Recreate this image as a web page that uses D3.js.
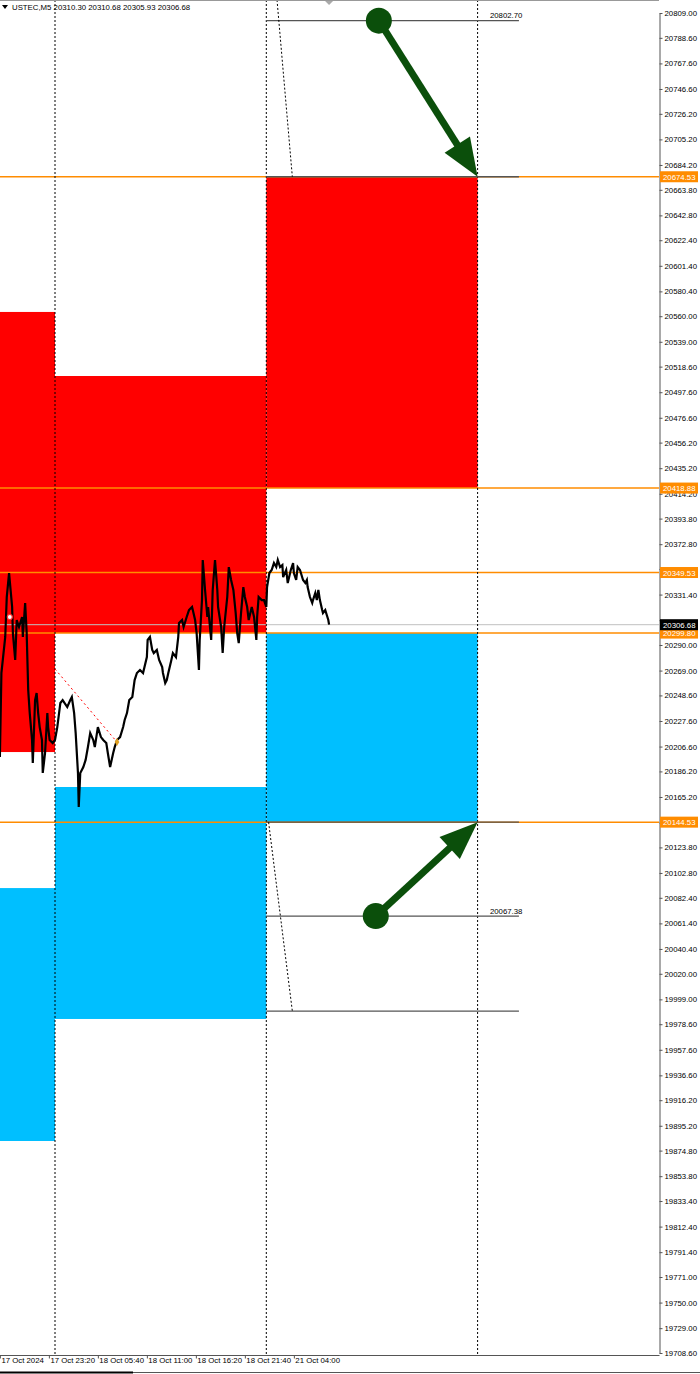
<!DOCTYPE html>
<html>
<head>
<meta charset="utf-8">
<title>USTEC,M5</title>
<style>
  body { margin: 0; background: #fff; }
  svg { display: block; font-family: "Liberation Sans", Arial, sans-serif; }
  .axis text { font-size: 7.8px; fill: #000; }
  .axis line, .axis path { stroke: #555; }
</style>
</head>
<body>
<script src="https://cdn.jsdelivr.net/npm/d3@7"></script>
<script>
// chart size and plot box
var width = 700, height = 1374,
    plotRight = 659, plotBottom = 1355;

// price axis labels (right side)
var priceTicks = [20809.00, 20788.60, 20767.60, 20746.60, 20726.20, 20705.20, 20684.20, 20663.80,
  20642.80, 20622.40, 20601.40, 20580.40, 20560.00, 20539.00, 20518.60, 20497.60, 20476.60,
  20456.20, 20435.20, 20414.20, 20393.80, 20372.80, 20352.40, 20331.40, 20310.40, 20290.00,
  20269.00, 20248.60, 20227.60, 20206.60, 20186.20, 20165.20, 20144.20, 20123.80, 20102.80,
  20082.40, 20061.40, 20040.40, 20020.00, 19999.00, 19978.60, 19957.60, 19936.60, 19916.20,
  19895.20, 19874.80, 19853.80, 19833.40, 19812.40, 19791.40, 19771.00, 19750.00, 19729.00,
  19708.60];

// time axis: bar index (M5 bars, 0 = first bar of 18 Oct) and label
var timeTickBars = [-72, -8, 56, 120, 184, 248, 312];
var timeTickLabels = ["17 Oct 2024", "17 Oct 23:20", "18 Oct 05:40", "18 Oct 11:00",
  "18 Oct 16:20", "18 Oct 21:40", "21 Oct 04:00"];

// close prices
var closeBars = [-72, -70, -65, -63, -60, -56, -55, -52, -50, -47, -43, -42, -39, -37, -35, -33,
  -30, -29, -26, -24, -22, -20, -17, -16, -13, -10, -9, -7, -3, 0, 3, 7, 10, 16, 20, 22, 25, 27,
  30, 31, 33, 37, 40, 43, 46, 50, 52, 56, 60, 63, 67, 69, 72, 76, 78, 81, 85, 89, 91, 94, 97,
  101, 104, 107, 111, 115, 120, 121, 124, 127, 129, 133, 136, 140, 141, 144, 146, 148, 152, 154,
  158, 161, 162, 166, 168, 172, 175, 179, 180, 183, 185, 188, 189, 192, 193, 196, 199, 200, 204,
  206, 209, 212, 213, 217, 219, 221, 225, 227, 230, 233, 236, 238, 240, 243, 246, 248, 251, 253,
  257, 260, 263, 264, 266, 270, 273, 276, 277, 280, 283, 286, 289, 291, 294, 297, 298, 302, 304,
  308, 311, 312, 315, 317, 320, 324, 327, 329, 330, 333, 336, 337, 340, 342, 344, 346, 349, 350,
  353, 355, 357, 358];
var closePrices = [20198.0, 20267.0, 20296.6, 20329.4, 20349.1, 20321.2, 20299.8, 20277.7,
  20310.5, 20304.8, 20313.0, 20296.6, 20324.5, 20299.8, 20253.0, 20234.1, 20212.0, 20193.1,
  20244.8, 20250.6, 20234.1, 20222.6, 20212.0, 20184.9, 20201.3, 20234.1, 20222.6, 20212.0,
  20209.5, 20212.0, 20222.6, 20242.4, 20244.8, 20239.1, 20244.8, 20247.3, 20234.1, 20217.7,
  20184.9, 20157.0, 20184.9, 20189.8, 20195.6, 20206.2, 20217.7, 20212.0, 20206.2, 20222.6,
  20214.4, 20212.0, 20209.5, 20201.3, 20189.8, 20201.3, 20206.2, 20212.0, 20214.4, 20222.6,
  20228.4, 20234.1, 20244.8, 20247.3, 20261.2, 20267.0, 20269.5, 20267.0, 20280.1, 20294.1,
  20296.6, 20285.9, 20283.4, 20285.9, 20277.7, 20271.9, 20267.0, 20258.8, 20261.2, 20267.0,
  20277.7, 20283.4, 20280.1, 20296.6, 20308.0, 20310.5, 20304.8, 20313.0, 20318.7, 20321.2,
  20318.7, 20310.5, 20299.8, 20269.5, 20294.1, 20326.9, 20359.8, 20335.2, 20313.0, 20321.2,
  20294.1, 20335.2, 20359.8, 20335.2, 20321.2, 20304.8, 20283.4, 20304.8, 20329.4, 20354.0,
  20343.4, 20335.2, 20316.3, 20299.8, 20291.6, 20316.3, 20337.6, 20329.4, 20321.2, 20310.5,
  20321.2, 20313.0, 20294.1, 20313.0, 20329.4, 20326.9, 20326.9, 20321.2, 20337.6, 20349.1,
  20351.6, 20357.3, 20354.0, 20359.8, 20354.0, 20355.7, 20345.8, 20351.6, 20340.9, 20351.6,
  20357.3, 20349.1, 20343.4, 20354.0, 20351.6, 20343.4, 20340.9, 20343.4, 20337.6, 20329.4,
  20324.5, 20326.9, 20332.7, 20326.9, 20335.2, 20326.9, 20318.7, 20316.3, 20318.7, 20314.6,
  20310.5, 20306.7];

// daily zones: start bar, end bar, supply (red) and demand (blue) ranges
var dayStartBars = [-276, 0, 276];
var dayEndBars = [0, 276, 552];
var supplyTop = [20563.5, 20510.9, 20674.53];
var supplyBottom = [20202.1, 20299.8, 20418.88];
var demandTop = [20090.4, 20173.4, 20299.80];
var demandBottom = [19882.7, 19982.9, 20144.53];

// separators
var separatorBars = [0, 276, 552];

// orange horizontal levels
var levelPrices = [20674.53, 20418.88, 20349.53, 20299.80, 20144.53];
var bidPrice = 20306.68;

// target lines for the current day
var targetPrices = [20802.70, 20674.53, 20144.53, 20067.38, 19989.40];
var targetLabels = ["20802.70", "", "", "20067.38", ""];
var targetStartBar = 276, targetEndBar = 606;

// dotted diagonals [bar, price]
var diagFrom = [[290, 20819.7], [279, 20144.5]];
var diagTo = [[310, 20674.53], [310, 19989.4]];
var redDiagFrom = [0, 20270.3], redDiagTo = [81, 20210.3];
var orderMark = [-59, 20313.0];

// green arrows
var arrowFromBar = [423, 419], arrowFromPrice = [20802.70, 20067.38];
var arrowToBar = [552, 552], arrowToPrice = [20674.53, 20144.53];

var header = "USTEC,M5  20310.30 20310.68 20305.93 20306.68";

// scales
var x = d3.scaleLinear().domain([0, 276]).range([55, 266.3]);
var y = d3.scaleLinear().domain([19708.60, 20809.00]).range([1353, 13]);

var svg = d3.select("body").append("svg")
  .attr("width", width).attr("height", height);

svg.append("clipPath").attr("id", "plot")
  .append("rect").attr("x", 0).attr("y", 0).attr("width", plotRight).attr("height", plotBottom);

var plot = svg.append("g").attr("clip-path", "url(#plot)");

// zones
plot.selectAll(".supply").data(dayStartBars).enter().append("rect")
  .attr("x", function(d) { return x(d); })
  .attr("width", function(d, i) { return x(dayEndBars[i]) - x(d); })
  .attr("y", function(d, i) { return y(supplyTop[i]); })
  .attr("height", function(d, i) { return y(supplyBottom[i]) - y(supplyTop[i]); })
  .attr("fill", "#ff0000");

plot.selectAll(".demand").data(dayStartBars).enter().append("rect")
  .attr("x", function(d) { return x(d); })
  .attr("width", function(d, i) { return x(dayEndBars[i]) - x(d); })
  .attr("y", function(d, i) { return y(demandTop[i]); })
  .attr("height", function(d, i) { return y(demandBottom[i]) - y(demandTop[i]); })
  .attr("fill", "#00bfff");

// orange levels
plot.selectAll(".level").data(levelPrices).enter().append("line")
  .attr("x1", 0).attr("x2", plotRight)
  .attr("y1", function(d) { return y(d); }).attr("y2", function(d) { return y(d); })
  .attr("stroke", "#ff8c00").attr("stroke-width", 1.5);

// bid line
plot.append("line")
  .attr("x1", 0).attr("x2", plotRight)
  .attr("y1", y(bidPrice)).attr("y2", y(bidPrice))
  .attr("stroke", "#c0c0c0").attr("stroke-width", 1);

// day separators
plot.selectAll(".sep").data(separatorBars).enter().append("line")
  .attr("x1", function(d) { return x(d); }).attr("x2", function(d) { return x(d); })
  .attr("y1", 0).attr("y2", plotBottom)
  .attr("stroke", "#000").attr("stroke-dasharray", "2,2");

// target lines
plot.selectAll(".target").data(targetPrices).enter().append("line")
  .attr("x1", x(targetStartBar)).attr("x2", x(targetEndBar))
  .attr("y1", function(d) { return y(d); }).attr("y2", function(d) { return y(d); })
  .attr("stroke", "#555").attr("stroke-width", 1.3);

plot.selectAll(".targetLabel").data(targetPrices).enter().append("text")
  .attr("x", x(targetEndBar) - 29).attr("y", function(d) { return y(d) - 2.5; })
  .attr("font-size", "7.8px")
  .text(function(d, i) { return targetLabels[i]; });

// dotted diagonals
plot.selectAll(".diag").data(diagFrom).enter().append("line")
  .attr("x1", function(d) { return x(d[0]); }).attr("y1", function(d) { return y(d[1]); })
  .attr("x2", function(d, i) { return x(diagTo[i][0]); }).attr("y2", function(d, i) { return y(diagTo[i][1]); })
  .attr("stroke", "#000").attr("stroke-dasharray", "2,2");

plot.append("line")
  .attr("x1", x(redDiagFrom[0])).attr("y1", y(redDiagFrom[1]))
  .attr("x2", x(redDiagTo[0])).attr("y2", y(redDiagTo[1]))
  .attr("stroke", "#ff0000").attr("stroke-dasharray", "2,3");

// price line
var line = d3.line()
  .x(function(d) { return x(d); })
  .y(function(d, i) { return y(closePrices[i]); });

plot.append("path")
  .attr("d", line(closeBars))
  .attr("fill", "none")
  .attr("stroke", "#000")
  .attr("stroke-width", 2.2)
  .attr("stroke-linejoin", "miter");

// markers
plot.append("circle")
  .attr("cx", x(orderMark[0])).attr("cy", y(orderMark[1])).attr("r", 2.5)
  .attr("fill", "#fff").attr("stroke", "#ff3030").attr("stroke-width", 1.2);

plot.append("path")
  .attr("d", d3.symbol().type(d3.symbolDiamond).size(18)())
  .attr("transform", "translate(" + x(redDiagTo[0]) + "," + y(redDiagTo[1]) + ")")
  .attr("fill", "#e0a020");

// green arrows
var green = "#0b4f0b";
arrowFromBar.forEach(function(b, i) {
  var x1 = x(b), y1 = y(arrowFromPrice[i]),
      x2 = x(arrowToBar[i]), y2 = y(arrowToPrice[i]);
  var dx = x2 - x1, dy = y2 - y1, len = Math.sqrt(dx * dx + dy * dy),
      ux = dx / len, uy = dy / len, headLen = 38, headW = 15;
  var bx = x2 - ux * headLen, by = y2 - uy * headLen;
  plot.append("line")
    .attr("x1", x1).attr("y1", y1).attr("x2", bx + ux * 4).attr("y2", by + uy * 4)
    .attr("stroke", green).attr("stroke-width", 7);
  plot.append("path")
    .attr("d", "M" + x2 + "," + y2 +
      "L" + (bx - uy * headW) + "," + (by + ux * headW) +
      "L" + (bx + uy * headW) + "," + (by - ux * headW) + "Z")
    .attr("fill", green);
  plot.append("circle")
    .attr("cx", x1).attr("cy", y1).attr("r", 13)
    .attr("fill", green);
});

// axes
var yAxis = d3.axisRight(y).tickValues(priceTicks)
  .tickFormat(d3.format(".2f")).tickSize(3).tickSizeOuter(0);
var gy = svg.append("g").attr("class", "axis")
  .attr("transform", "translate(" + (plotRight + 0.5) + ",0)")
  .call(yAxis);
gy.selectAll("text").attr("x", 5);
// labels sitting right under a level label box are covered in the original
var covered = levelPrices.concat([bidPrice]);
gy.selectAll(".tick text").style("display", function(d) {
  return covered.some(function(p) { return Math.abs(y(p) - y(d)) < 5.6; }) ? "none" : null;
});

var xAxis = d3.axisBottom(x).tickValues(timeTickBars)
  .tickFormat(function(d, i) { return timeTickLabels[i]; }).tickSize(3).tickSizeOuter(0);
var gx = svg.append("g").attr("class", "axis")
  .attr("transform", "translate(0," + (plotBottom + 0.5) + ")")
  .call(xAxis);
gx.select(".domain").attr("d", "M0,0H" + (plotRight + 0.5));
gx.selectAll("text").attr("text-anchor", "start").attr("x", 1).attr("dy", "0.6em").attr("y", 3);

// top border
svg.append("line").attr("x1", 0).attr("x2", plotRight).attr("y1", 0.5).attr("y2", 0.5)
  .attr("stroke", "#999");

// level labels on price axis
var lab = svg.selectAll(".lvlLab").data(levelPrices).enter().append("g")
  .attr("transform", function(d) { return "translate(" + (plotRight + 1) + "," + y(d) + ")"; });
lab.append("rect").attr("x", 0).attr("y", -5.5).attr("width", 38).attr("height", 11)
  .attr("fill", "#ff8c00");
lab.append("text").attr("x", 3).attr("y", 3).attr("font-size", "7.8px").attr("fill", "#fff")
  .text(function(d) { return d3.format(".2f")(d); });

var bid = svg.append("g").attr("transform", "translate(" + (plotRight + 1) + "," + y(bidPrice) + ")");
bid.append("rect").attr("x", 0).attr("y", -5.5).attr("width", 38).attr("height", 11).attr("fill", "#000");
bid.append("text").attr("x", 3).attr("y", 3).attr("font-size", "7.8px").attr("fill", "#fff")
  .text(d3.format(".2f")(bidPrice));

// shift marker
svg.append("path")
  .attr("d", "M" + (x(closeBars[closeBars.length - 1]) - 4) + ",1h8l-4,4z")
  .attr("fill", "#aaa");

// header
svg.append("path").attr("d", "M2,5h6l-3,4z").attr("fill", "#000");
svg.append("text").attr("x", 12).attr("y", 10).attr("font-size", "7.8px").text(header);

// window bottom edge
svg.append("line").attr("x1", 0).attr("x2", width).attr("y1", 1372.5).attr("y2", 1372.5)
  .attr("stroke", "#555");
svg.append("line").attr("x1", 0).attr("x2", 133).attr("y1", 1372.5).attr("y2", 1372.5)
  .attr("stroke", "#000").attr("stroke-width", 2);
</script>
</body>
</html>
